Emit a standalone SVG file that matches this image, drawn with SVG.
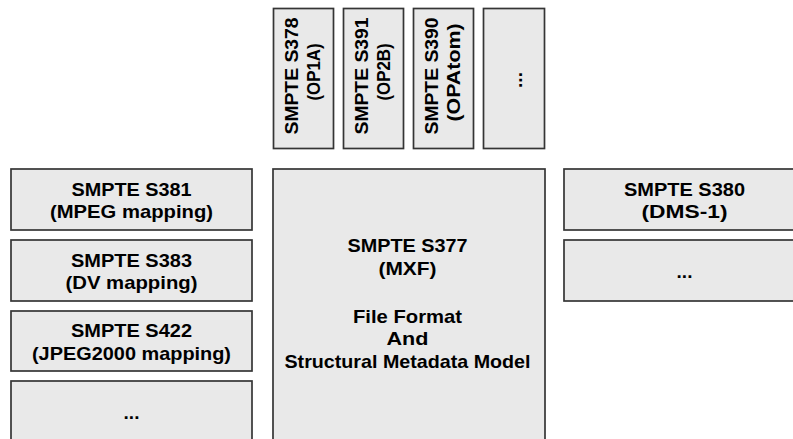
<svg xmlns="http://www.w3.org/2000/svg" width="793" height="439" viewBox="0 0 793 439">
  <style>
    .box { fill: #e9e9e9; stroke: #353535; stroke-width: 1.7; }
    text { font-family: "Liberation Sans", Arial, sans-serif; font-weight: bold; font-size: 19px; fill: #000; text-anchor: middle; }
  </style>
  <rect width="793" height="439" fill="#ffffff"/>

  <!-- Operational pattern specifications (top row, vertical labels) -->
  <g id="op1a">
    <rect class="box" x="273.5" y="8.5" width="60" height="140"/>
    <text transform="translate(298,76) rotate(-90)" textLength="117" lengthAdjust="spacingAndGlyphs">SMPTE S378</text>
    <text transform="translate(319.5,72) rotate(-90)" textLength="57" lengthAdjust="spacingAndGlyphs">(OP1A)</text>
  </g>
  <g id="op2b">
    <rect class="box" x="343.5" y="8.5" width="60" height="140"/>
    <text transform="translate(368,76) rotate(-90)" textLength="117" lengthAdjust="spacingAndGlyphs">SMPTE S391</text>
    <text transform="translate(389.5,72) rotate(-90)" textLength="57" lengthAdjust="spacingAndGlyphs">(OP2B)</text>
  </g>
  <g id="opatom">
    <rect class="box" x="413.5" y="8.5" width="60" height="140"/>
    <text transform="translate(438,76) rotate(-90)" textLength="117" lengthAdjust="spacingAndGlyphs">SMPTE S390</text>
    <text transform="translate(460,72.5) rotate(-90)" textLength="98" lengthAdjust="spacingAndGlyphs">(OPAtom)</text>
  </g>
  <g id="op-more">
    <rect class="box" x="483.5" y="8.5" width="61" height="140"/>
    <text transform="translate(521.5,80) rotate(-90)">...</text>
  </g>

  <!-- Essence mappings (left column) -->
  <g id="s381">
    <rect class="box" x="11" y="169" width="241" height="61"/>
    <text x="131.5" y="195.5" textLength="120" lengthAdjust="spacingAndGlyphs">SMPTE S381</text>
    <text x="131.5" y="218" textLength="163" lengthAdjust="spacingAndGlyphs">(MPEG mapping)</text>
  </g>
  <g id="s383">
    <rect class="box" x="11" y="240" width="241" height="61"/>
    <text x="131.5" y="266.5" textLength="121" lengthAdjust="spacingAndGlyphs">SMPTE S383</text>
    <text x="131.5" y="289" textLength="132" lengthAdjust="spacingAndGlyphs">(DV mapping)</text>
  </g>
  <g id="s422">
    <rect class="box" x="11" y="311" width="241" height="60"/>
    <text x="131.5" y="337" textLength="121" lengthAdjust="spacingAndGlyphs">SMPTE S422</text>
    <text x="131.5" y="359.5" textLength="199" lengthAdjust="spacingAndGlyphs">(JPEG2000 mapping)</text>
  </g>
  <g id="mapping-more">
    <rect class="box" x="11" y="381" width="241" height="70"/>
    <text x="131.5" y="418.5">...</text>
  </g>

  <!-- Core MXF specification (centre) -->
  <g id="s377">
    <rect class="box" x="273" y="169" width="272" height="290"/>
    <text x="407.5" y="252" textLength="120" lengthAdjust="spacingAndGlyphs">SMPTE S377</text>
    <text x="407.5" y="274.5" textLength="58" lengthAdjust="spacingAndGlyphs">(MXF)</text>
    <text x="407.5" y="322.5" textLength="109" lengthAdjust="spacingAndGlyphs">File Format</text>
    <text x="407.5" y="345" textLength="42" lengthAdjust="spacingAndGlyphs">And</text>
    <text x="407.5" y="368" textLength="246" lengthAdjust="spacingAndGlyphs">Structural Metadata Model</text>
  </g>

  <!-- Descriptive metadata schemes (right column) -->
  <g id="s380">
    <rect class="box" x="564" y="169" width="241" height="61"/>
    <text x="684.5" y="195.5" textLength="121" lengthAdjust="spacingAndGlyphs">SMPTE S380</text>
    <text x="684.5" y="218" textLength="86" lengthAdjust="spacingAndGlyphs">(DMS-1)</text>
  </g>
  <g id="dms-more">
    <rect class="box" x="564" y="240" width="241" height="61"/>
    <text x="684.5" y="277.5">...</text>
  </g>

  <g id="connectors"/>
</svg>
